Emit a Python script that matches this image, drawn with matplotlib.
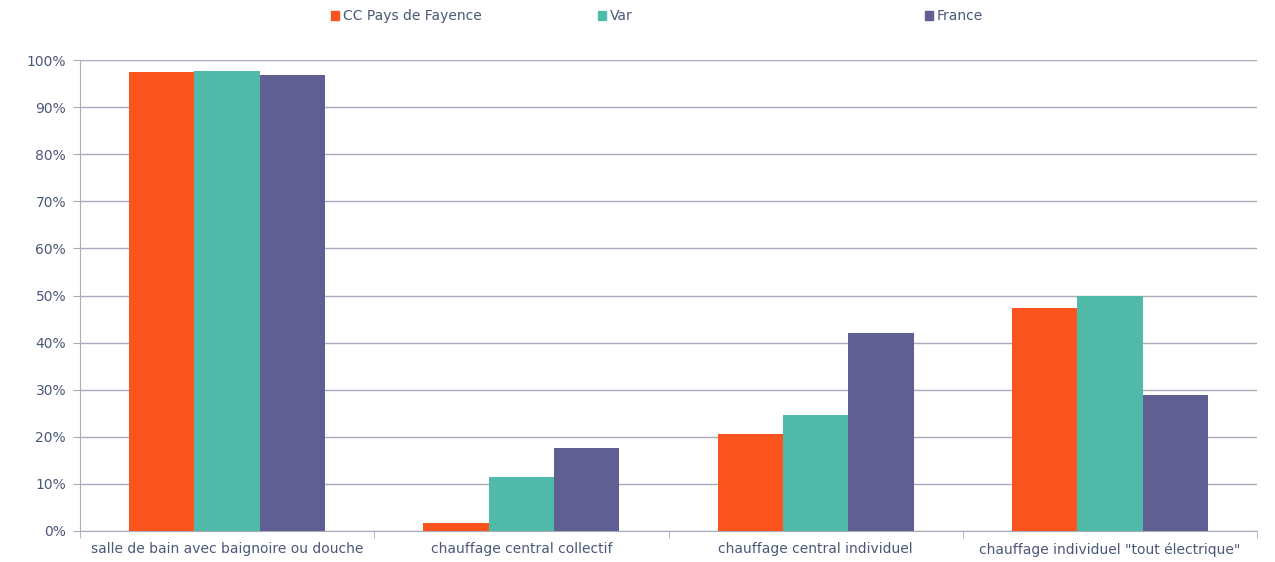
import numpy as np
import matplotlib
matplotlib.use("Agg")
import matplotlib.pyplot as plt
from matplotlib.patches import Patch
from matplotlib.ticker import PercentFormatter

categories = ["salle de bain avec baignoire ou douche", "chauffage central collectif",
              "chauffage central individuel", 'chauffage individuel "tout électrique"']
series = ["CC Pays de Fayence", "Var", "France"]
cc_fayence = [97.5, 1.8, 20.6, 47.3]
var = [97.6, 11.4, 24.6, 49.8]
france = [96.8, 17.6, 42.0, 28.9]

couleurs = ["#FC541F", "#51B9A8", "#605F93"]
texte = "#4A5878"
grille = "#A9ABBD"

plt.rcParams["font.family"] = "DejaVu Sans"
plt.rcParams["font.size"] = 10

fig = plt.figure(figsize=(12.75, 5.62), dpi=100)
ax = fig.add_axes([80 / 1275, 31 / 562, 1177 / 1275, 471 / 562])

x = np.arange(len(categories))
largeur = 0.222
for i, (valeurs, nom) in enumerate(zip([cc_fayence, var, france], series)):
    ax.bar(x + (i - 1) * largeur, valeurs, width=largeur, color=couleurs[i], label=nom, zorder=3)

ax.set_xlim(-0.5, len(categories) - 0.5)
ax.set_ylim(0, 100)
ax.set_yticks(np.arange(0, 101, 10))
ax.yaxis.set_major_formatter(PercentFormatter(decimals=0))
ax.grid(axis="y", color=grille, linewidth=1, zorder=0)

ax.set_xticks(x)
ax.set_xticklabels(categories)
ax.set_xticks(np.arange(-0.5, len(categories), 1), minor=True)
ax.tick_params(axis="x", which="major", length=0, pad=8, colors=texte)
ax.tick_params(axis="x", which="minor", length=5, color=grille, direction="out")
ax.tick_params(axis="y", length=5, color=grille, colors=texte, pad=5)

for cote in ["top", "right"]:
    ax.spines[cote].set_visible(False)
for cote in ["left", "bottom"]:
    ax.spines[cote].set_color(grille)

# légende : trois entrées placées séparément
for nom, couleur, xpos in zip(series, couleurs, [331, 598, 925]):
    fig.legend(handles=[Patch(color=couleur, label=nom)], loc="center left",
               bbox_to_anchor=(xpos / 1275, 1 - 16 / 562), frameon=False,
               handlelength=0.6, handleheight=0.6, handletextpad=0.25,
               borderpad=0, borderaxespad=0, labelcolor=texte, fontsize=10)

fig.savefig("out.png", dpi=100)
